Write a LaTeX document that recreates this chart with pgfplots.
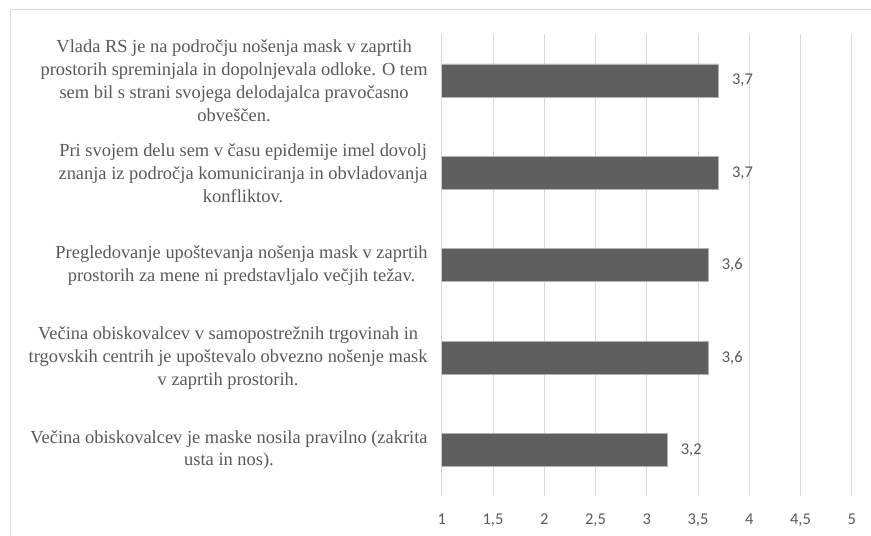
\documentclass[border=0pt]{standalone}
\usepackage{pgfplots}
\pgfplotsset{compat=1.18}
\usepackage{fontspec}
\setmainfont{Liberation Serif}
\newfontfamily\numfont{Carlito}
\definecolor{barc}{HTML}{5F5F5F}
\definecolor{txt}{HTML}{595959}
\definecolor{gridc}{HTML}{D9D9D9}
\begin{document}
\begin{tikzpicture}[x=1bp,y=1bp]
\useasboundingbox (0,0) rectangle (871,536);
\draw[gridc, line width=1bp] (10,-10) rectangle (880,526);
\begin{axis}[at={(431,43)}, anchor=south west, scale only axis,
  width=410bp, height=462bp,
  xbar, xmin=1, xmax=5, ymin=0.5, ymax=5.5,
  xtick={1,1.5,2,2.5,3,3.5,4,4.5,5}, ytick={1,2,3,4,5},
  yticklabels={
    {Večina obiskovalcev je maske nosila pravilno (zakrita\\usta in nos).},
    {Večina obiskovalcev v samopostrežnih trgovinah in\\trgovskih centrih je upoštevalo obvezno nošenje mask\\v zaprtih prostorih.},
    {Pregledovanje upoštevanja nošenja mask v zaprtih\\prostorih za mene ni predstavljalo večjih težav.},
    {Pri svojem delu sem v času epidemije imel dovolj\\znanja iz področja komuniciranja in obvladovanja\\konfliktov.},
    {Vlada RS je na področju nošenja mask v zaprtih\\prostorih spreminjala in dopolnjevala odloke. O tem\\sem bil s strani svojega delodajalca pravočasno\\obveščen.}},
  bar width=33bp,
  axis line style={draw=none},
  major tick length=0pt,
  xmajorgrids, grid style={gridc, line width=1bp},
  /pgf/number format/use comma,
  /pgf/number format/assume math mode=true,
  xticklabel style={font=\numfont\fontsize{16.5}{16.5}\selectfont, text=txt, anchor=north, yshift=-14bp},
  yticklabel style={align=center, font=\fontsize{18.5}{23}\selectfont, text=txt, anchor=east, inner sep=0pt, xshift=-14bp},
  nodes near coords,
  every node near coord/.append style={font=\numfont\fontsize{16.5}{16.5}\selectfont, text=txt, anchor=west, xshift=10bp},
]
\addplot[fill=barc, draw=gray!60, line width=0.6bp] coordinates {(3.2,1) (3.6,2) (3.6,3) (3.7,4) (3.7,5)};
\end{axis}
\end{tikzpicture}
\end{document}
